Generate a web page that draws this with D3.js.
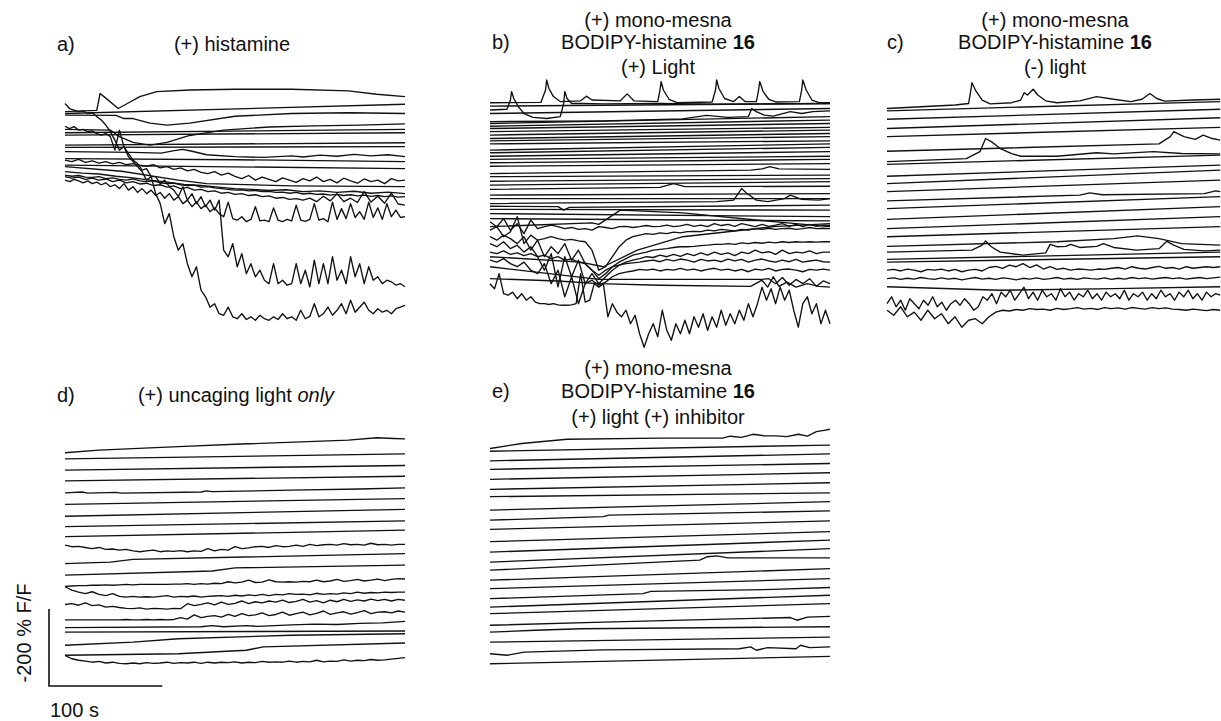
<!DOCTYPE html>
<html>
<head>
<meta charset="utf-8">
<script src="https://cdn.jsdelivr.net/npm/d3@7"></script>
<style>
  body { margin: 0; background: #fff; }
  svg { font-family: "Liberation Sans", Arial, sans-serif; }
  .trace { fill: none; stroke: #111; stroke-width: 1.35; stroke-linejoin: round; }
</style>
</head>
<body>
<div id="chart"></div>
<script>
// Traces: values are stacked -dF/F in % (downward = larger), time in s.
// A trace is either a list of [t, value] pairs or a list of evenly sampled values over the run.

const durA = 300, durB = 300, durC = 294, durD = 300, durE = 300;

const tracesA = [
  [[0,160],[28,157],[31,113],[36,125],[47,152],[55,139],[66,121],[81,108],[110,104],[150,102],[200,102],[250,106],[275,115],[300,121]],
  [165, 141],
  [[0,169],[45,170],[52,178],[60,178],[75,190],[90,195],[110,190],[150,172],[200,165],[250,163],[300,165]],
  [[0,206],[40,208],[48,225],[60,240],[75,247],[90,240],[110,222],[140,208],[180,200],[220,197],[260,195],[300,192]],
  [215, 206],
  [221, 215],
  [247, 241],
  [253, 251],
  [[0,264],[60,266],[85,268],[95,262],[104,258],[112,263],[125,272],[150,277],[175,279],[200,275],[210,278],[225,273],[240,276],[255,271],[270,275],[285,272],[300,277]],
  [[0,282],[150,285],[300,290]],
  [299, 308],
  [286,290,284,292,288,294,290,296,292,298,295,299,302,298,306,303,310,306,314,310,318,321,316,325,320,328,334,326,338,330,336,342,332,338,344,334,340,330,342,336,345,333,340,346,335,342,338,347,334,340,338],
  [[0,303],[50,315],[100,338],[125,347],[200,353],[300,355]],
  [316,320,322,328,332,338,343,349,352,356,360,362,365,363,368,366,370,367,372,369,373],
  [325,328,326,330,331,329,334,332,336,338,335,340,342,340,345,347,346,350,352,351,356,355,358,360,362,364,363,366,365,368,367,370,369,372,370,374,372,375,374,377,375,378,376,379,377,380,378,381,379,382,381],
  [329,333,330,336,333,338,335,342,338,345,342,348,346,352,350,356,353,360,357,364,362,368,366,372,370,375,373,378,376,381,379,385,383,388,386,390,385,394,380,392,373,394,385,396,368,395,380,398,372,400,403],
  [338,342,336,340,345,340,347,343,350,345,355,350,360,347,364,355,370,360,373,364,378,370,385,373,390,381,399,390,407,395,412,403,420,410,425,433,395,438,442,433,446,440,407,444,442,446,410,442,446,440,444,403,442,445,440,399,442,438,446,395,440,412,438,399,435,420,440,395,435,410,440,399,433,416,435,433],
  [198,204,199,208,206,212,210,217,221,217,225,260,208,251,269,286,295,312,308,329,329,347,338,355,364,381,355,390,373,399,381,407,390,416,390,520,537,503,563,529,581,555,589,572,598,607,555,607,598,611,607,555,607,572,615,546,607,555,607,537,598,572,607,537,589,555,607,563,598,589,607,598,602,611,607,615],
  [139,152,156,160,158,165,163,173,182,195,212,234,260,251,277,290,303,316,338,329,373,399,451,425,485,520,503,555,589,563,624,641,668,659,685,689,668,693,698,685,700,693,702,689,698,702,693,700,685,698,693,702,676,698,692,659,693,685,668,689,676,659,685,650,681,668,655,676,685,672,681,676,685,672,668,663]
];

const tracesB = [
  [[0,85],[45,84],[49,52],[50,26],[52,48],[56,69],[62,82],[80,80],[85,68],[90,78],[115,80],[121,62],[127,80],[148,82],[150,52],[151,30],[153,52],[158,76],[165,85],[196,83],[199,52],[200,26],[202,48],[207,74],[215,82],[220,69],[225,82],[235,82],[237,52],[238,30],[241,56],[246,76],[252,83],[273,82],[275,52],[276,26],[279,52],[284,78],[290,84],[300,85]],
  [[0,104],[15,102],[18,78],[19,56],[21,74],[25,95],[30,113],[38,123],[50,126],[62,121],[65,87],[66,56],[68,74],[72,87],[80,87],[100,88],[150,87],[200,89],[300,87]],
  [[0,134],[100,132],[170,127],[191,118],[210,123],[228,121],[231,100],[235,108],[242,117],[250,120],[265,108],[275,113],[285,108],[300,106]],
  [94,87],[113,100],[139,121],[146,130],[152,139],[160,149],[169,156],[178,165],[184,173],[192,184],[208,192],[215,201],[224,212],[232,224],[241,232],[250,243],[277,273],[289,282],[299,290],[325,321],[334,334],[362,364],[373,381],[386,392],
  [[0,269],[230,260],[240,257],[247,251],[255,257],[300,258]],
  [[0,310],[150,305],[162,295],[172,303],[300,302]],
  [[0,347],[200,342],[215,338],[222,308],[226,319],[235,338],[245,342],[260,334],[265,325],[275,336],[290,338],[300,334]],
  [[0,354],[60,355],[65,364],[70,357],[300,351]],
  [[0,407],[90,397],[96,401],[115,364],[170,371],[250,394],[300,407]],
  [[0,485],[80,499],[100,511],[130,468],[170,433],[250,407],[300,399]],
  [394,407,386,416,399,425,390,412,407,403,407,412,409,414,412,416,407,409,412,407,406,409,407,404,407,406,403,407,405,401,406,403,407,399,404,401,406,399,403,407,401,406,403,399,406,401,407,401,406,403,404],
  [416,407,433,420,381,451,429,442,438,433,438,442,440,444,446,468,520,511,485,459,442,433,429,425,427,423,425,421,423,420,419,420,416,418,414,416,418,414,416,412,414,411,414,412,411,414,412,409,412,411,412],
  [433,442,429,438,451,433,468,442,485,459,477,451,494,468,503,520,542,529,511,499,490,481,477,473,468,466,464,461,459,459,458,456,455,453,453,451,453,449,451,448,450,447,449,446,448,446,447,446,447,446,446],
  [451,459,446,464,455,473,459,485,520,477,563,485,537,494,555,529,555,537,520,507,499,494,490,485,487,481,485,479,484,477,482,475,481,473,479,475,482,473,477,468,475,472,479,468,477,473,475,470,477,473,473],
  [473,477,470,479,475,482,477,485,481,490,485,494,491,499,503,520,533,520,511,507,503,501,499,496,494,498,492,496,491,494,499,492,496,494,498,491,496,492,499,494,491,496,499,494,498,492,499,496,494,498,499],
  [494,499,490,503,511,499,520,529,503,555,520,589,537,607,555,546,559,551,537,529,525,522,518,520,517,522,518,520,515,520,517,522,518,515,520,517,522,518,524,517,520,515,522,518,517,520,524,518,520,517,520],
  [[0,511],[96,544],[240,544],[246,542],[252,555],[258,539],[264,559],[270,544],[276,555],[282,542],[288,562],[294,548],[300,555]],
  [[0,542],[60,548],[96,555],[150,559],[230,562],[240,546],[245,564],[250,537],[255,562],[262,551],[270,564],[280,555],[290,562],[300,564]],
  [555,568,529,581,585,577,594,581,598,589,603,607,607,609,607,610,611,611,610,607,529,603,598,555,564,555,641,607,629,641,624,659,637,685,720,685,659,693,624,676,702,659,685,650,685,641,668,633,676,641,668,624,663,633,659,624,650,607,641,607,564,598,568,607,564,598,572,624,668,607,589,633,607,659,624,659]
];

const tracesC = [
  [[0,100],[60,91],[72,87],[74,52],[75,33],[78,52],[84,78],[91,88],[110,85],[118,78],[121,59],[124,65],[129,50],[133,65],[140,80],[150,85],[170,80],[185,69],[200,76],[215,82],[225,76],[232,61],[238,74],[245,81],[270,78],[294,76]],
  [106, 82],
  [128, 102],
  [152, 124],
  [173, 149],
  [[0,211],[240,192],[250,173],[253,160],[262,173],[272,180],[279,169],[287,178],[294,182]],
  [[0,238],[70,230],[82,212],[87,178],[92,186],[100,204],[110,217],[118,224],[150,224],[185,215],[200,218],[235,212],[260,217],[294,218]],
  [245, 221],
  [276, 247],
  [295, 260],
  [316, 286],
  [[0,340],[170,325],[179,319],[190,324],[280,321],[290,314],[294,316]],
  [360, 329],
  [388, 355],
  [412, 381],
  [433, 407],
  [[0,458],[150,446],[200,438],[221,431],[240,438],[260,451],[294,455]],
  [[0,473],[75,468],[84,455],[87,444],[92,459],[100,473],[120,481],[140,475],[144,453],[150,459],[158,458],[162,453],[170,461],[185,458],[191,451],[200,461],[220,468],[240,464],[247,445],[253,455],[262,466],[280,470],[294,468]],
  [492, 473],
  [499, 485],
  [520,518,522,517,520,524,518,520,517,522,518,524,520,518,522,513,510,515,507,511,503,513,506,517,511,518,515,520,517,518,520,517,518,515,513,517,511,515,517,513,510,515,513,517,511,515,513,511,513,511],
  [542,540,544,541,543,539,542,544,540,543,541,545,542,539,543,541,544,540,542,545,541,543,540,544,542,539,543,541,544,540,542,543,540,544,541,543,539,542,540,543,541,539,542,540,543,541,539,542,540,538],
  [[0,563],[100,572],[200,568],[294,563]],
  [607,589,615,598,624,594,607,620,598,611,589,615,603,624,607,598,611,594,607,624,615,589,598,581,607,577,589,572,598,581,564,594,577,598,572,589,581,598,568,589,577,598,581,589,572,594,581,598,577,589,581,594,572,598,581,589,577,598,581,594,572,589,581,598,577,589,572,594,581,598,577,589,581,585],
  [624,637,615,641,629,650,624,646,633,659,641,668,650,646,659,641,629,624,626,622,624,620,622,621,624,619,622,620,617,621,619,622,617,620,618,621,617,619,621,617,620,618,621,622,624,621,623,625,622,624]
];

const tracesD = [
  [[0,189],[30,182],[100,173],[150,167],[250,156],[275,150],[290,152],[300,153]],
  [205, 192],
  [234, 222],
  [262, 250],
  [[0,293],[15,291],[20,294],[45,292],[50,294],[120,291],[125,288],[130,290],[200,286],[260,283],[300,280]],
  [323, 308],
  [354, 336],
  [381, 366],
  [407, 390],
  [429,433,432,435,438,435,440,439,442,440,444,446,444,442,446,444,445,443,446,444,445,438,444,440,442,433,438,436,433,432,435,430,433,432,429,432,427,430,428,427,429,425,428,427,429,424,428,427,429,427,427],
  [[0,477],[40,473],[60,466],[300,451]],
  [[0,507],[130,496],[150,488],[300,481]],
  [536,535,534,534,533,533,532,533,532,531,532,531,531,531,531,531,530,530,529,531,529,530,528,529,524,527,525,520,526,525,519,524,525,524,525,523,524,520,524,522,518,523,521,518,522,520,517,521,518,516,517],
  [537,546,551,555,550,557,560,555,562,564,562,564,563,564,562,560,564,562,563,561,564,562,561,560,562,559,561,558,560,557,560,557,558,555,557,556,558,554,557,555,556,553,555,551,554,552,553,551,552,551,551],
  [583,581,585,579,586,584,590,588,591,593,594,592,595,593,594,595,593,594,581,586,583,579,584,577,583,580,574,581,576,579,574,577,572,578,575,570,577,573,579,572,576,570,575,571,574,569,573,570,574,570,572],
  [623,623,623,623,623,623,623,623,623,622,623,623,622,623,622,623,622,617,621,610,617,614,612,616,609,614,607,612,610,605,612,609,603,611,607,603,610,606,600,609,605,602,608,604,599,607,603,602,605,600,603],
  [[0,643],[120,641],[130,638],[140,641],[160,638],[170,640],[200,636],[220,634],[240,635],[260,632],[280,631],[300,627]],
  [655, 652],
  [[0,689],[60,681],[100,672],[200,663],[300,659]],
  [[0,715],[100,711],[160,702],[175,693],[300,683]],
  [715,724,728,730,733,731,735,733,736,737,735,737,734,736,735,733,736,734,735,733,736,733,735,733,734,732,735,733,734,731,733,732,733,730,733,731,732,728,732,730,731,727,730,728,729,726,728,727,725,723,721]
];

const tracesE = [
  [[0,178],[28,165],[68,154],[150,151],[205,151],[212,146],[222,149],[232,141],[242,145],[252,145],[262,147],[272,141],[280,146],[288,134],[296,130],[300,128]],
  [185, 169],
  [210, 192],
  [232, 217],
  [258, 241],
  [284, 267],
  [303, 293],
  [338, 316],
  [[0,364],[100,355],[105,351],[300,340]],
  [388, 366],
  [420, 394],
  [447, 416],
  [473, 438],
  [[0,494],[185,468],[192,459],[200,457],[210,462],[300,462]],
  [520, 490],
  [542, 516],
  [[0,568],[135,555],[142,549],[250,544],[300,539]],
  [590, 559],
  [607, 581],
  [[0,637],[100,629],[265,617],[271,624],[280,616],[300,614]],
  [[0,655],[40,650],[80,646],[300,641]],
  [681, 668],
  [[0,711],[15,715],[30,707],[100,701],[220,698],[230,693],[235,702],[245,695],[270,698],[274,689],[282,695],[300,693]],
  [737, 718]
];

// scale bar values
const scaleBarSec = 100;
const scaleBarPct = 200;

// titles
const titleA = ["(+) histamine"];
const titleB = ["(+) mono-mesna", "BODIPY-histamine |16", "(+) Light"];
const titleC = ["(+) mono-mesna", "BODIPY-histamine |16", "(-) light"];
const titleD = ["(+) uncaging light ~only"];
const titleE = ["(+) mono-mesna", "BODIPY-histamine |16", "(+) light (+) inhibitor"];

function main() {
  const W = 1221, H = 721;
  const pxPerSec = 340 / 300;
  const pxPerPct = 77 / 200;

  const svg = d3.select("#chart").append("svg")
    .attr("width", W).attr("height", H);

  const panels = [
    { traces: tracesA, dur: durA, x0: 65, y0: 50, label: "a)", lx: 57, ly: 51, title: titleA, tx: 232, ty: [51] },
    { traces: tracesB, dur: durB, x0: 490, y0: 70, label: "b)", lx: 492, ly: 49, title: titleB, tx: 658, ty: [27, 49, 74] },
    { traces: tracesC, dur: durC, x0: 887, y0: 70, label: "c)", lx: 887, ly: 49, title: titleC, tx: 1055, ty: [27, 49, 74] },
    { traces: tracesD, dur: durD, x0: 65, y0: 380, label: "d)", lx: 57, ly: 402, title: titleD, tx: 236, ty: [402] },
    { traces: tracesE, dur: durE, x0: 490, y0: 380, label: "e)", lx: 492, ly: 398, title: titleE, tx: 658, ty: [375, 398, 424] }
  ];

  panels.forEach((p) => {
    const x = d3.scaleLinear().domain([0, p.dur]).range([p.x0, p.x0 + p.dur * pxPerSec]);
    const y = d3.scaleLinear().domain([0, 200]).range([p.y0, p.y0 + 200 * pxPerPct]);
    const line = d3.line().x((d) => x(d[0])).y((d) => y(d[1]));

    const data = p.traces.map((tr) =>
      Array.isArray(tr[0]) ? tr : tr.map((v, i) => [i * p.dur / (tr.length - 1), v])
    );

    svg.append("g")
      .selectAll("path")
      .data(data)
      .enter()
      .append("path")
      .attr("class", "trace")
      .attr("d", line);

    svg.append("text")
      .attr("x", p.lx).attr("y", p.ly)
      .attr("font-size", 20).attr("fill", "#111")
      .text(p.label);

    p.title.forEach((t, i) => {
      const txt = svg.append("text")
        .attr("x", p.tx).attr("y", p.ty[i])
        .attr("text-anchor", "middle")
        .attr("font-size", 20).attr("fill", "#111");
      if (t.includes("|")) {
        const parts = t.split("|");
        txt.append("tspan").text(parts[0]);
        txt.append("tspan").attr("font-weight", "bold").text(parts[1]);
      } else if (t.includes("~")) {
        const parts = t.split("~");
        txt.append("tspan").text(parts[0]);
        txt.append("tspan").attr("font-style", "italic").text(parts[1]);
      } else {
        txt.text(t);
      }
    });
  });

  // scale bar
  const sx = d3.scaleLinear().domain([0, scaleBarSec]).range([49, 49 + scaleBarSec * pxPerSec]);
  const sy = d3.scaleLinear().domain([0, scaleBarPct]).range([686, 686 - scaleBarPct * pxPerPct]);
  svg.append("path")
    .attr("fill", "none").attr("stroke", "#111").attr("stroke-width", 1.6)
    .attr("d", d3.line()([[sx(0), sy(scaleBarPct)], [sx(0), sy(0)], [sx(scaleBarSec), sy(0)]]));

  svg.append("text")
    .attr("transform", "translate(31,633) rotate(-90)")
    .attr("text-anchor", "middle")
    .attr("font-size", 20).attr("fill", "#111")
    .text("-200 % F/F");

  svg.append("text")
    .attr("x", 50).attr("y", 717)
    .attr("font-size", 20).attr("fill", "#111")
    .text("100 s");
}

main();
</script>
</body>
</html>
